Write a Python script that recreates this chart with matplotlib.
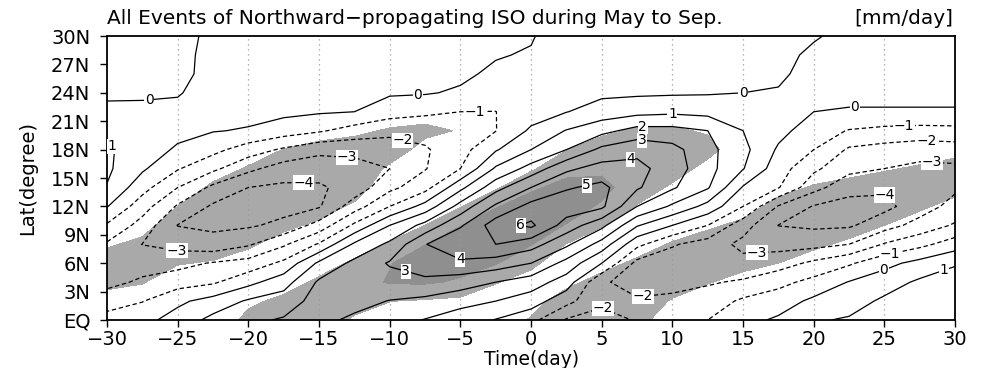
import numpy as np
import matplotlib
matplotlib.use("Agg")
import matplotlib.pyplot as plt

# lag (day) and latitude grid of the composite
days = np.arange(-30, 30.1, 2.5)
lats = np.arange(0, 30.1, 2)

# composite rainfall anomaly (mm/day); one row per lag day, EQ -> 30N
rain = [
    [-0.6, -1.48, -2.28, -2.67, -2.13, -1.12, 0.05, 0.95, 1.17, 1.15, 0.86, 0.17, -0.13, -0.3, -0.3, -0.3],
    [-0.3, -1.04, -1.84, -2.41, -3.02, -2.39, -1.56, -0.63, 0.15, 0.45, 0.45, 0.15, -0.1, -0.3, -0.3, -0.3],
    [0.4, -0.2, -1.44, -2.31, -3.36, -4.03, -3.12, -2.0, -0.92, -0.12, 0.25, 0.23, -0.07, -0.3, -0.3, -0.3],
    [1.3, 0.38, -1.14, -1.92, -3.67, -4.18, -4.15, -3.23, -1.78, -0.7, 0.05, 0.22, 0.4, 0.35, 0.3, 0.2],
    [1.8, 1.13, -0.3, -1.62, -3.13, -4.13, -4.32, -4.0, -2.75, -1.5, -0.08, 0.3, 0.4, 0.4, 0.35, 0.3],
    [2.1, 1.48, 0.59, -0.77, -2.15, -3.75, -4.35, -4.18, -3.47, -2.15, -0.5, 0.23, 0.4, 0.4, 0.35, 0.3],
    [2.2, 2.4, 2.15, 1.2, -0.89, -2.62, -4.1, -4.13, -3.59, -2.73, -0.87, 0.1, 0.4, 0.4, 0.35, 0.3],
    [1.85, 2.26, 2.69, 2.25, 1.17, -0.8, -2.47, -3.64, -3.43, -2.68, -1.42, 0.0, 0.35, 0.4, 0.35, 0.3],
    [1.4, 1.97, 2.57, 3.1, 2.21, 1.0, -1.0, -2.26, -3.0, -2.44, -1.76, -0.56, 0.12, 0.3, 0.3, 0.25],
    [0.95, 1.78, 2.71, 3.7, 3.95, 2.33, 0.37, -1.38, -2.06, -2.11, -1.63, -0.83, 0.08, 0.25, 0.3, 0.3],
    [0.5, 1.33, 2.5, 3.75, 4.97, 3.86, 2.38, 0.73, -1.0, -1.4, -1.56, -1.0, -0.13, 0.2, 0.2, 0.2],
    [-0.05, 1.0, 2.0, 3.54, 5.0, 5.51, 4.18, 2.62, 1.14, -0.1, -1.03, -1.01, -0.61, -0.2, 0.08, 0.1],
    [-0.7, 0.5, 1.5, 3.0, 4.43, 6.2, 5.33, 4.0, 2.38, 1.0, 0.17, -0.49, -0.66, -0.38, -0.1, 0.1],
    [-2.1, -0.67, 0.53, 1.65, 3.21, 4.56, 5.6, 4.9, 3.8, 2.0, 1.05, -0.03, -0.54, -0.8, -0.75, -0.7],
    [-2.25, -1.86, -1.9, 0.0, 1.59, 3.29, 5.2, 5.25, 4.39, 3.25, 1.69, 0.44, -0.2, -0.5, -0.5, -0.5],
    [-1.95, -1.92, -2.3, -2.3, -0.73, 1.09, 3.0, 4.13, 4.3, 3.72, 2.36, 0.69, -0.16, -0.5, -0.5, -0.5],
    [-1.4, -1.8, -2.28, -2.55, -1.9, 0.0, 1.83, 3.13, 3.5, 3.33, 2.33, 0.81, -0.12, -0.5, -0.45, -0.4],
    [-1.0, -1.56, -2.1, -2.6, -2.43, -1.0, 0.67, 2.1, 2.35, 2.3, 2.0, 0.7, -0.08, -0.42, -0.45, -0.4],
    [-0.3, -0.82, -1.87, -2.69, -3.28, -2.57, -1.0, -0.09, 1.05, 1.29, 1.0, 0.5, 0.0, -0.27, -0.37, -0.3],
    [0.15, -0.47, -1.29, -2.45, -3.35, -4.02, -3.09, -0.94, -0.54, -0.14, 0.3, 0.5, 0.08, -0.18, -0.3, -0.3],
    [0.9, 0.21, -0.7, -1.78, -3.33, -4.17, -4.07, -2.65, -1.8, -1.0, -0.5, 0.0, 0.3, 0.37, 0.2, -0.1],
    [1.1, 0.59, 0.05, -1.14, -3.0, -4.13, -4.34, -3.67, -2.71, -2.14, -1.06, -0.08, 0.25, 0.35, 0.33, 0.3],
    [1.6, 1.17, 0.57, -0.31, -1.92, -3.42, -4.26, -3.83, -3.0, -2.38, -1.27, -0.08, 0.25, 0.4, 0.35, 0.3],
    [1.8, 1.48, 1.16, 0.33, -1.29, -2.62, -3.5, -3.64, -3.23, -2.59, -1.36, -0.08, 0.25, 0.4, 0.35, 0.3],
    [1.9, 1.6, 1.29, 0.94, -0.5, -1.88, -2.64, -3.18, -3.19, -2.48, -1.31, -0.08, 0.25, 0.35, 0.33, 0.3],
]

# significance index: >= 1 passes the 95% test, >= 3 passes the 99% test
signif = [
    [0, 0.4, 1.4, 1.8, 0.8, 0, 0, 0, 0, 0, 0, 0, 0, 0, 0, 0],
    [0, 0.1, 1.1, 2, 1.4, 0.4, 0, 0, 0, 0, 0, 0, 0, 0, 0, 0],
    [0, 0, 0.1, 1.1, 2, 2, 1.0, 0, 0, 0, 0, 0, 0, 0, 0, 0],
    [0, 0, 0, 0.85, 1.85, 2, 2, 1.3, 0.3, 0, 0, 0, 0, 0, 0, 0],
    [1.4, 0.7, 0, 0.25, 1.25, 2, 2, 2, 1.15, 0.15, 0, 0, 0, 0, 0, 0],
    [2, 1.35, 0.35, 0, 0.35, 1.35, 2, 2, 2, 1.05, 0.05, 0, 0, 0, 0, 0],
    [2, 2, 1.3, 0.3, 0, 0.7, 1.7, 2, 2, 1.45, 0.45, 0, 0, 0, 0, 0],
    [0.75, 1.75, 2, 1.25, 0.25, 0, 0.75, 1.75, 2, 1.7, 0.7, 0, 0, 0, 0, 0],
    [0.05, 1.05, 3.2, 2.9, 1.15, 0.15, 0, 0, 0.75, 1.75, 1.15, 0.15, 0, 0, 0, 0],
    [0, 0.8, 3.25, 4, 2.95, 1.0, 0, 0, 0, 0.5, 1.35, 0.35, 0, 0, 0, 0],
    [0, 0.55, 2.75, 3.75, 4, 2.95, 0.9, 0, 0, 0.2, 0.9, 0, 0, 0, 0, 0],
    [0.4, 0.1, 1.1, 3.15, 4, 3.9, 2.9, 0.7, 0, 0, 0, 0, 0, 0, 0, 0],
    [1.1, 0.5, 0.35, 1.35, 3.1, 4, 3.75, 2.75, 0.7, 0, 0, 0, 0, 0, 0, 0],
    [2, 1.65, 0.65, 0, 0.95, 2.9, 3.9, 3.5, 2.5, 0.95, 0, 0, 0, 0, 0, 0],
    [2, 2, 1.5, 0.5, 0.1, 1.1, 2.75, 3.6, 2.6, 1.7, 0.7, 0, 0, 0, 0, 0],
    [1.6, 2, 2, 1.3, 0.3, 0, 0.9, 1.9, 2, 2, 1.2, 0.2, 0, 0, 0, 0],
    [0, 0.85, 1.85, 2, 1.15, 0.15, 0, 0.75, 1.75, 2, 1.2, 0.2, 0, 0, 0, 0],
    [0, 0.1, 1.1, 2, 1.75, 0.75, 0, 0, 0.5, 1.5, 0.85, 0, 0, 0, 0, 0],
    [0, 0, 0.45, 1.45, 2, 1.35, 0.35, 0, 0, 0, 0, 0, 0, 0, 0, 0],
    [0, 0, 0, 1.0, 2, 2, 1.5, 0.5, 0, 0, 0, 0, 0, 0, 0, 0],
    [0, 0, 0, 0.3, 1.3, 2, 2, 1.15, 0.15, 0, 0, 0, 0, 0, 0, 0],
    [0, 0, 0, 0, 0.7, 1.7, 2, 1.5, 0.5, 0, 0, 0, 0, 0, 0, 0],
    [0, 0, 0, 0, 0, 1.0, 2, 1.85, 0.85, 0, 0, 0, 0, 0, 0, 0],
    [0, 0, 0, 0, 0, 0.25, 1.25, 2, 1.2, 0.2, 0, 0, 0, 0, 0, 0],
    [0, 0, 0, 0, 0, 0, 0.5, 1.5, 1.55, 0.55, 0, 0, 0, 0, 0, 0],
]

levels = [-4, -3, -2, -1, 0, 1, 2, 3, 4, 5, 6]
x_ticks = list(range(-30, 31, 5))
y_ticks = list(range(0, 31, 3))
y_ticklabels = ["EQ"] + [f"{v}N" for v in y_ticks[1:]]

# where the contour labels sit (lag day, latitude)
label_spots = [(-27.0, 23.2), (-8.0, 23.3), (15.0, 24.0), (22.9, 22.6), (24.9, 5.6),
               (-29.1, 19.0), (10.0, 21.7), (29.1, 5.6),
               (-4.0, 22.2), (26.4, 20.4), (25.4, 6.9),
               (-9.0, 19.7), (28.0, 19.3), (7.9, 2.6), (5.0, 0.9),
               (-25.1, 7.0), (-13.0, 17.7), (16.0, 7.0), (28.4, 17.3),
               (-16.1, 15.1), (25.3, 13.7),
               (7.9, 20.4), (7.9, 19.3), (-9.0, 4.5), (7.0, 17.5), (-5.0, 6.4),
               (3.9, 14.5), (-1.2, 10.0)]

Z = np.array(rain).T
S = np.array(signif).T

fig = plt.figure(figsize=(9.82, 3.68), dpi=100)
ax = fig.add_axes([0.109, 0.1304, 0.8636, 0.7717])

ax.contourf(days, lats, S, levels=[1, 3, 100], colors=["#a9a9a9", "#8f8f8f"], zorder=1)

for t in range(-25, 30, 5):
    ax.axvline(t, color="#9a9a9a", lw=0.9, ls=(0, (1, 3)), zorder=2)

styles = [(0, (3.5, 2.2)) if lv < 0 else "solid" for lv in levels]
cs = ax.contour(days, lats, Z, levels=levels, colors="black",
                linewidths=0.9, linestyles=styles, zorder=3)

def fmt(v):
    return f"{int(round(v))}".replace("-", "\u2212")

texts = ax.clabel(cs, inline=False, fontsize=10, fmt=fmt, manual=label_spots)
for tx in texts:
    tx.set_rotation(0)
    tx.set_bbox(dict(facecolor="white", edgecolor="none", pad=0.4))
    tx.set_zorder(5)

ax.set_xlim(-30, 30)
ax.set_ylim(0, 30)
ax.set_xticks(x_ticks)
ax.set_xticklabels([f"{v}".replace("-", "\u2212") for v in x_ticks])
ax.set_yticks(y_ticks)
ax.set_yticklabels(y_ticklabels)
ax.tick_params(direction="out", length=5, width=1, labelsize=14)
ax.tick_params(axis="y", pad=7)
ax.tick_params(axis="x", pad=2.5)
for sp in ax.spines.values():
    sp.set_linewidth(1.3)

ax.set_xlabel("Time(day)", fontsize=13.5, va="top")
ax.xaxis.set_label_coords(0.5, -0.104)
ax.set_ylabel("Lat(degree)", fontsize=14)
ax.yaxis.set_label_coords(-0.0825, 0.5)

fig.text(107 / 982, 1 - 19 / 368,
         "All Events of Northward\u2212propagating ISO during May to Sep.",
         ha="left", va="center", fontsize=14.5)
fig.text(953 / 982, 1 - 19 / 368, "[mm/day]", ha="right", va="center", fontsize=14.5)

fig.savefig("out.png", dpi=100)
